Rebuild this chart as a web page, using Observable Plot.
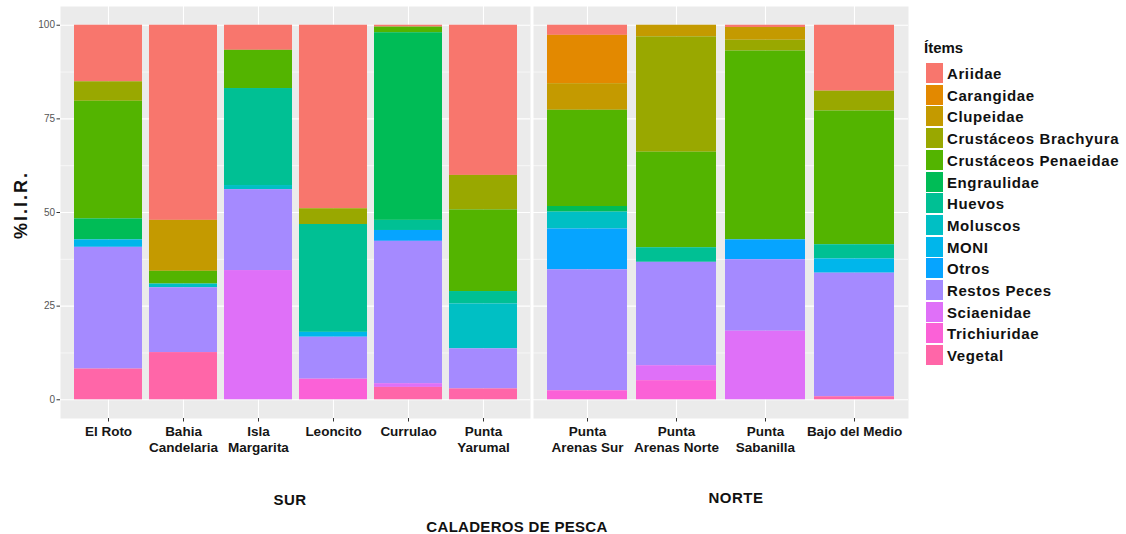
<!DOCTYPE html>
<html>
<head>
<meta charset="utf-8">
<script src="https://cdn.jsdelivr.net/npm/d3@7"></script>
<script src="https://cdn.jsdelivr.net/npm/@observablehq/plot@0.6"></script>
<style>
  body { margin: 0; background: white; font-family: "Liberation Sans", Arial, sans-serif; }
  #wrap { position: relative; width: 1126px; height: 534px; overflow: hidden; }
  .abs { position: absolute; }
  .lbl { font-weight: bold; color: #111; white-space: nowrap; }
</style>
</head>
<body>
<div id="wrap"></div>
<script>
// ---- data ----
const sitesSur = ["El Roto", "Bahia Candelaria", "Isla Margarita", "Leoncito", "Currulao", "Punta Yarumal"];
const sitesNorte = ["Punta Arenas Sur", "Punta Arenas Norte", "Punta Sabanilla", "Bajo del Medio"];
const sites = [...sitesSur, ...sitesNorte];
const siteLabels = ["El Roto", "Bahia\nCandelaria", "Isla\nMargarita", "Leoncito", "Currulao", "Punta\nYarumal",
                    "Punta\nArenas Sur", "Punta\nArenas Norte", "Punta\nSabanilla", "Bajo del Medio"];
const items = ["Ariidae", "Carangidae", "Clupeidae", "Crustáceos Brachyura", "Crustáceos Penaeidae", "Engraulidae",
               "Huevos", "Moluscos", "MONI", "Otros", "Restos Peces", "Sciaenidae", "Trichiuridae", "Vegetal"];
const colors = ["#F8766D", "#E38900", "#C49A00", "#99A800", "#53B400", "#00BC56", "#00C094",
                "#00BFC4", "#00B6EB", "#06A4FF", "#A58AFF", "#DF70F8", "#FB61D7", "#FF66A8"];
const yTicks = [0, 25, 50, 75, 100];
const yMinor = [12.5, 37.5, 62.5, 87.5];

// values per item, in the order of `sites`
const ariidae      = [15.1, 52.1,  6.7, 49.0,  0.5, 40.1,  2.7,  0.0,  0.6, 17.6];
const carangidae   = [ 0.0,  0.0,  0.0,  0.0,  0.0,  0.0, 12.9,  0.0,  0.0,  0.0];
const clupeidae    = [ 0.0, 13.6,  0.0,  0.0,  0.0,  0.0,  7.1,  3.1,  3.4,  0.0];
const brachyura    = [ 5.2,  0.0,  0.0,  4.2,  0.0,  9.2,  0.0, 30.8,  2.9,  5.3];
const penaeidae    = [31.4,  3.4, 10.2,  0.0,  1.5, 21.8, 25.7, 25.5, 50.4, 35.7];
const engraulidae  = [ 5.6,  0.0,  0.0,  0.0, 50.1,  0.0,  1.5,  0.0,  0.0,  0.0];
const huevos       = [ 0.0,  0.0, 25.9, 28.8,  2.7,  3.3,  0.0,  3.9,  0.0,  3.8];
const moluscos     = [ 0.0,  1.0,  1.1,  0.0,  0.0, 12.0,  4.5,  0.0,  0.0,  0.0];
const moni         = [ 2.0,  0.0,  0.0,  1.3,  0.0,  0.0,  0.0,  0.0,  0.0,  3.8];
const otros        = [ 0.0,  0.0,  0.0,  0.0,  2.9,  0.0, 10.9,  0.0,  5.3,  0.0];
const restosPeces  = [32.5, 17.3, 21.6, 11.2, 38.0, 10.7, 32.3, 27.6, 19.1, 33.0];
const sciaenidae   = [ 0.0,  0.0, 34.5,  0.0,  1.0,  0.0,  0.0,  4.0, 18.3,  0.0];
const trichiuridae = [ 0.0,  0.0,  0.0,  5.5,  0.0,  0.0,  2.4,  5.1,  0.0,  0.0];
const vegetal      = [ 8.2, 12.6,  0.0,  0.0,  3.3,  2.9,  0.0,  0.0,  0.0,  0.8];

const series = [ariidae, carangidae, clupeidae, brachyura, penaeidae, engraulidae, huevos,
                moluscos, moni, otros, restosPeces, sciaenidae, trichiuridae, vegetal];

const rows = [];
items.forEach((item, i) => sites.forEach((site, j) => {
  if (series[i][j] > 0) rows.push({site, item, value: series[i][j]});
}));
const labelOf = new Map(sites.map((s, i) => [s, siteLabels[i]]));
const stackOrder = items.slice().reverse();

function panel(domain, width, marginLeft, showY) {
  const data = rows.filter(d => domain.includes(d.site));
  return Plot.plot({
    width, height: 462,
    marginLeft, marginRight: 0, marginTop: 6, marginBottom: 44,
    style: {fontFamily: "Liberation Sans, Arial, sans-serif", background: "transparent", overflow: "visible"},
    x: {domain, paddingInner: 0.1, paddingOuter: 0.15, label: null, axis: null},
    y: {domain: [-5, 105], label: null, axis: null},
    color: {domain: items, range: colors},
    marks: [
      Plot.frame({fill: "#EBEBEB", stroke: null}),
      Plot.gridY(yMinor, {stroke: "white", strokeOpacity: 1, strokeWidth: 0.6}),
      Plot.gridY(yTicks, {stroke: "white", strokeOpacity: 1, strokeWidth: 1.1}),
      Plot.gridX({stroke: "white", strokeOpacity: 1, strokeWidth: 1.1}),
      Plot.barY(data, Plot.stackY({order: stackOrder}, {x: "site", y: "value", fill: "item"})),
      Plot.axisX({tickSize: 3.5, tickPadding: 3, stroke: "#333", fontSize: 13.5, fontWeight: "bold",
                  fill: "#151515", tickFormat: d => labelOf.get(d), lineHeight: 1.15}),
      ...(showY ? [Plot.axisY({ticks: yTicks, tickSize: 3.5, tickPadding: 2, stroke: "#333",
                               fontSize: 10, fill: "#555", label: null})] : [])
    ]
  });
}

const wrap = document.getElementById("wrap");
const p1 = panel(sitesSur, 530, 60, true);
p1.classList.add("abs"); p1.style.left = "0px"; p1.style.top = "0px";
wrap.appendChild(p1);
const p2 = panel(sitesNorte, 375, 0, false);
p2.classList.add("abs"); p2.style.left = "533px"; p2.style.top = "0px";
wrap.appendChild(p2);

function addText(text, x, y, size, extra = {}) {
  const d = document.createElement("div");
  d.className = "abs lbl";
  d.textContent = text;
  d.style.fontSize = size + "px";
  d.style.left = x + "px"; d.style.top = y + "px";
  Object.assign(d.style, extra);
  wrap.appendChild(d);
  return d;
}
// y-axis title
addText("%I.I.R.", 21, 205, 18, {letterSpacing: "2px", transform: "translate(-50%,-50%) rotate(-90deg)"});
// facet labels
addText("SUR", 290, 499, 15, {letterSpacing: "0.5px", transform: "translate(-50%,-50%)"});
addText("NORTE", 736, 497, 15, {letterSpacing: "0.5px", transform: "translate(-50%,-50%)"});
// x title
addText("CALADEROS DE PESCA", 517, 526, 15, {letterSpacing: "0.3px", transform: "translate(-50%,-50%)"});

// legend
addText("Ítems", 924, 39, 15);
items.forEach((it, i) => {
  const y = 63 + i * 21.7;
  const sw = document.createElement("div");
  sw.className = "abs";
  Object.assign(sw.style, {left: "926px", top: y + "px", width: "17px", height: "20px", background: colors[i]});
  wrap.appendChild(sw);
  addText(it, 947, y + 10, 15, {letterSpacing: "0.6px", transform: "translateY(-50%)"});
});
</script>
</body>
</html>
